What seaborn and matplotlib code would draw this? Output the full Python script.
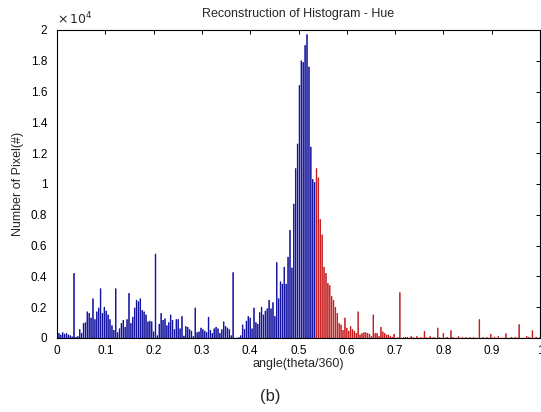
import numpy as np
import pandas as pd
import matplotlib
matplotlib.use("Agg")
import matplotlib.pyplot as plt
from matplotlib.ticker import FuncFormatter
import seaborn as sns

# histograma de matiz (256 bins)
pixel_counts = [
    250, 300, 200, 350, 250, 300, 200, 150, 80, 4200, 50, 100, 550, 300, 950, 1000,
    1700, 1600, 1300, 2550, 1200, 1700, 1950, 3200, 1600, 2000, 1750, 1500, 1200, 800, 500, 3200,
    350, 600, 950, 1150, 700, 1200, 2900, 950, 1350, 1950, 2450, 2350, 2550, 1800, 1700, 1500,
    1050, 1100, 1050, 400, 5450, 150, 900, 1600, 1150, 1250, 800, 1000, 1500, 1150, 550, 1200,
    1200, 600, 1400, 130, 750, 700, 550, 450, 100, 1950, 350, 400, 650, 550, 450, 350,
    1350, 500, 300, 600, 700, 600, 300, 550, 1050, 750, 650, 550, 150, 4250, 0, 0,
    30, 150, 850, 550, 1100, 1400, 1300, 600, 1950, 1000, 900, 1650, 2000, 1500, 1750, 1900,
    2450, 1900, 2300, 1400, 4900, 2550, 3650, 3500, 4600, 3500, 5250, 7000, 4550, 8700, 11000, 12600,
    16400, 18000, 17900, 19000, 19700, 17600, 12400, 10300, 10100, 11000, 10400, 7700, 6700, 4600, 4200, 3550,
    3400, 2700, 2450, 2000, 1600, 950, 850, 500, 1300, 650, 450, 750, 550, 450, 300, 1700,
    200, 300, 350, 350, 300, 250, 100, 1500, 300, 300, 100, 700, 400, 300, 200, 200,
    100, 50, 250, 0, 30, 2950, 0, 30, 50, 50, 0, 100, 30, 0, 100, 0,
    30, 0, 430, 30, 0, 100, 0, 30, 0, 650, 30, 0, 300, 0, 50, 0,
    480, 30, 0, 0, 100, 0, 20, 0, 20, 0, 20, 0, 20, 0, 0, 1200,
    0, 20, 0, 20, 0, 250, 0, 50, 0, 100, 0, 0, 0, 280, 0, 0,
    50, 0, 50, 0, 870, 0, 0, 0, 100, 50, 0, 480, 0, 50, 0, 30,
]
hue_angle = np.arange(256) / 255  # posição de cada bin (theta/360)
red_start = 137  # a partir deste bin as barras ficam vermelhas
side = ["azul" if i < red_start else "vermelho" for i in range(256)]
cores = {"azul": "#0c0c9c", "vermelho": "#c41818"}

x_ticks = [0, 0.1, 0.2, 0.3, 0.4, 0.5, 0.6, 0.7, 0.8, 0.9, 1]
x_tick_labels = ["0", "0.1", "0.2", "0.3", "0.4", "0.5", "0.6", "0.7", "0.8", "0.9", "1"]
y_ticks = [0, 2000, 4000, 6000, 8000, 10000, 12000, 14000, 16000, 18000, 20000]

df = pd.DataFrame({"angle": hue_angle, "count": pixel_counts, "side": side})

sns.set_style("white")
plt.rcParams["font.family"] = ["Liberation Sans", "DejaVu Sans"]

fig = plt.figure(figsize=(5.41, 4.12), dpi=100)
ax = fig.add_axes([57 / 541, 74 / 412, 483 / 541, 308 / 412])

sns.barplot(data=df, x="angle", y="count", hue="side", palette=cores,
            native_scale=True, dodge=False, width=0.4, saturation=1,
            legend=False, errorbar=None, ax=ax)

# barras finas como hastes: contorno da mesma cor, sem encaixe no pixel
for p in ax.patches:
    p.set_edgecolor(p.get_facecolor())
    p.set_linewidth(0.45)
    p.set_snap(False)

ax.set_xlim(0, 1)
ax.set_ylim(0, 20000)
ax.set_xticks(x_ticks)
ax.set_xticklabels(x_tick_labels)
ax.set_yticks(y_ticks)
ax.yaxis.set_major_formatter(FuncFormatter(lambda v, p: f"{v / 1e4:g}"))
ax.tick_params(direction="in", length=3, width=0.7, top=True, right=True,
               labelsize=8.5, colors="black")
ax.tick_params(axis="x", pad=5)
ax.tick_params(axis="y", pad=7)
for s in ax.spines.values():
    s.set_visible(True)
    s.set_color("black")
    s.set_linewidth(0.8)

ax.text(0.0, 1.008, r"$\times\,10^{4}$", transform=ax.transAxes, fontsize=9,
        ha="left", va="bottom")
ax.set_title("Reconstruction of Histogram - Hue", fontsize=9, pad=9)
ax.set_xlabel("angle(theta/360)", fontsize=9, labelpad=1)
ax.set_ylabel("Number of Pixel(#)", fontsize=9, labelpad=5)
fig.text(0.5, 1 - 396 / 412, "(b)", ha="center", va="center", fontsize=12)

fig.savefig("out.png", dpi=100)
